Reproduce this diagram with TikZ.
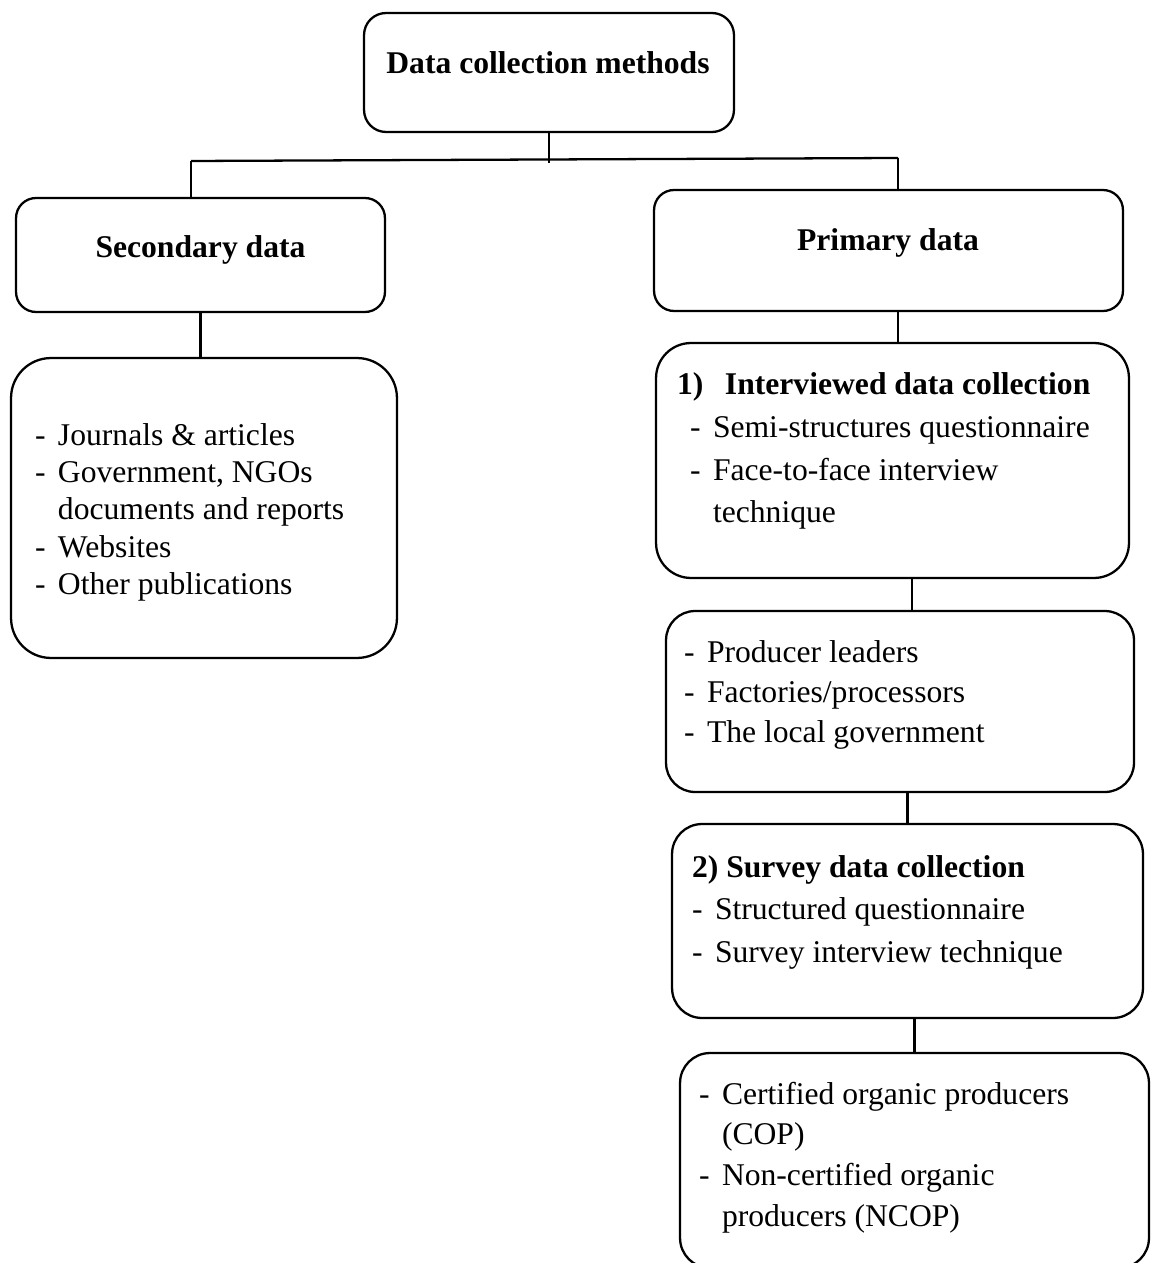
\documentclass[tikz,border=0pt]{standalone}
\usepackage{fontspec}
\setmainfont{Liberation Serif}
\usetikzlibrary{calc}
\newcommand{\dashitem}[1]{\makebox[0.46cm][l]{-}#1}
\newcommand{\dashgap}{\hspace*{0.46cm}}

\begin{document}
\begin{tikzpicture}[x=0.02cm, y=-0.02cm,
  box/.style={draw=black, line width=1.3pt, inner sep=0pt, outer sep=0pt},
  lbl/.style={inner sep=0pt, outer sep=0pt, anchor=base, font=\fontsize{18}{22}\selectfont\bfseries},
  lst/.style={inner sep=0pt, outer sep=0pt, anchor=base west},
  link/.style={draw=black, line width=1.3pt}]
\useasboundingbox (0,0) rectangle (1151,1263);
\clip (0,0) rectangle (1151,1263);

\node[box, rounded corners=0.44cm, minimum width=7.40cm, minimum height=2.38cm] (top) at (549,72.5) {};
\node[lbl] (topT) at (548,74) {Data collection methods};

\node[box, rounded corners=0.40cm, minimum width=7.38cm, minimum height=2.28cm] (sec) at (200.5,255) {};
\node[lbl] (secT) at (200.5,258) {Secondary data};

\node[box, rounded corners=0.40cm, minimum width=9.38cm, minimum height=2.42cm] (prim) at (888.5,250.5) {};
\node[lbl] (primT) at (888,251) {Primary data};

\node[box, rounded corners=0.80cm, minimum width=7.72cm, minimum height=6.00cm] (seclist) at (204,508) {};
\node[lst, font=\fontsize{18}{21.3}\selectfont] (seclistT) at (35,445) {\begin{tabular}[t]{@{}l@{}}
\dashitem{Journals \& articles}\\
\dashitem{Government, NGOs}\\
\dashgap documents and reports\\
\dashitem{Websites}\\
\dashitem{Other publications}
\end{tabular}};

\node[box, rounded corners=0.70cm, minimum width=9.46cm, minimum height=4.70cm] (intv) at (892.5,460.5) {};
\node[lst, font=\fontsize{18}{24.2}\selectfont] (intvT) at (677,395) {\begin{tabular}[t]{@{}l@{}}
\makebox[0.96cm][l]{\textbf{1)}}\textbf{Interviewed data collection}\\
\hspace*{0.26cm}\dashitem{Semi-structures questionnaire}\\
\hspace*{0.26cm}\dashitem{Face-to-face interview}\\
\hspace*{0.26cm}\dashgap technique
\end{tabular}};

\node[box, rounded corners=0.58cm, minimum width=9.36cm, minimum height=3.62cm] (prod) at (900,701.5) {};
\node[lst, font=\fontsize{18}{23}\selectfont] (prodT) at (684,662) {\begin{tabular}[t]{@{}l@{}}
\dashitem{Producer leaders}\\
\dashitem{Factories/processors}\\
\dashitem{The local government}
\end{tabular}};

\node[box, rounded corners=0.60cm, minimum width=9.42cm, minimum height=3.88cm] (surv) at (907.5,921) {};
\node[lst, font=\fontsize{18}{24.4}\selectfont] (survT) at (692,877) {\begin{tabular}[t]{@{}l@{}}
\textbf{2) Survey data collection}\\
\dashitem{Structured questionnaire}\\
\dashitem{Survey interview technique}
\end{tabular}};

\node[box, rounded corners=0.60cm, minimum width=9.38cm, minimum height=4.30cm] (fin) at (914.5,1160.5) {};
\node[lst, font=\fontsize{18}{23.2}\selectfont] (finT) at (699,1104) {\begin{tabular}[t]{@{}l@{}}
\dashitem{Certified organic producers}\\
\dashgap (COP)\\
\dashitem{Non-certified organic}\\
\dashgap producers (NCOP)
\end{tabular}};

\coordinate (busL) at (191,161);
\coordinate (busR) at (898,158);
\draw[link] (top.south) -- ($(top.south |- busL)+(0,2)$);
\draw[link] (busL) -- (busR);
\draw[link] (busL) -- (busL |- sec.north);
\draw[link] (busR) -- (busR |- prim.north);
\draw[link] (sec.south) -- (sec.south |- seclist.north);
\draw[link] (busR |- prim.south) -- (busR |- intv.north);
\draw[link] ($(intv.south)+(19.5,0)$) -- ($(intv.south |- prod.north)+(19.5,0)$);
\draw[link] (surv.north |- prod.south) -- (surv.north);
\draw[link] (fin.north |- surv.south) -- (fin.north);
\end{tikzpicture}
\end{document}
